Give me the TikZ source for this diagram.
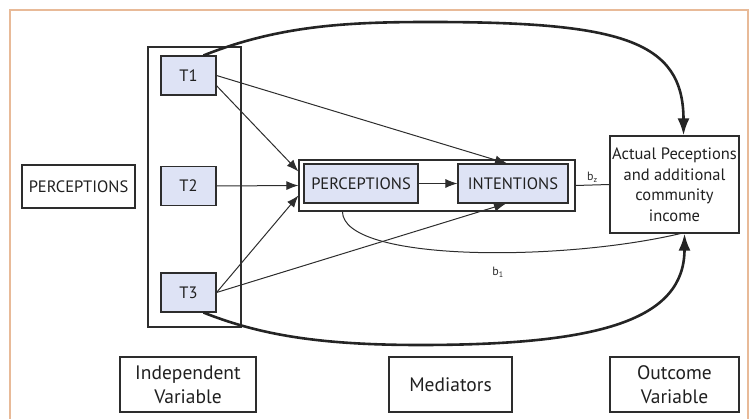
\documentclass[tikz,border=0pt]{standalone}
\usepackage{fontspec}
\setmainfont{PT Sans}
\usetikzlibrary{arrows.meta}

\definecolor{boxfill}{RGB}{222,227,245}
\definecolor{boxline}{RGB}{45,45,45}
\definecolor{frameline}{RGB}{232,186,152}

\begin{document}
\begin{tikzpicture}[x=1pt,y=-1pt,
    box/.style={draw=boxline, line width=1.1pt, inner sep=0pt, align=center, text=boxline!70!black,
        font=\fontsize{16.5}{20.5}\selectfont},
    tbox/.style={box, fill=boxfill},
    legend/.style={box, font=\fontsize{19.5}{24}\selectfont},
    arr/.style={draw=boxline, line width=1pt, -{Latex[length=12pt,width=9pt]}},
    bigarr/.style={draw=boxline!80!black, line width=2.6pt, -{Latex[length=17pt,width=12pt]}},
    lbl/.style={text=boxline, font=\fontsize{12}{14}\selectfont, inner sep=1pt}]
\useasboundingbox (0,0) rectangle (755,419);
\draw[frameline, line width=1.2pt] (10,430) -- (10,10) -- (748,10) -- (748,430);

% left and independent variable
\node[box, minimum width=113pt, minimum height=43pt] (lperc) at (78.5,186.5) {PERCEPTIONS};
\node[box, minimum width=93pt, minimum height=280pt] (indep) at (194.5,187) {};
\node[tbox, minimum width=55pt, minimum height=39pt] (T1) at (188.5,75.5) {T1};
\node[tbox, minimum width=55pt, minimum height=39pt] (T2) at (188.5,186) {T2};
\node[tbox, minimum width=55pt, minimum height=39pt] (T3) at (188.5,292.5) {T3};

% mediators
\node[box, minimum width=276pt, minimum height=51pt] (med) at (437,185.5) {};
\node[tbox, minimum width=114pt, minimum height=39pt] (perc) at (361,183.5) {PERCEPTIONS};
\node[tbox, minimum width=110pt, minimum height=39pt] (int) at (513,183.5) {INTENTIONS};

% outcome
\node[box, minimum width=129pt, minimum height=97pt] (out) at (674.5,184.5)
    {Actual Peceptions\\and additional\\community\\income};

% bottom labels
\node[legend, minimum width=136pt, minimum height=55pt] (indv) at (188,384.5) {Independent\\Variable};
\node[legend, minimum width=123pt, minimum height=55pt] (medv) at (450.5,384.5) {Mediators};
\node[legend, minimum width=129pt, minimum height=55pt] (outv) at (674.5,384.5) {Outcome\\Variable};

% paths
\draw[arr] (T1.-20) -- ([yshift=14pt]med.west);
\draw[arr] (T1.east) -- ([xshift=-6pt]int.north);
\draw[arr] (T2.east) -- (med.west);
\draw[arr] (T3.east) -- ([yshift=-10pt]med.west);
\draw[arr] (T3.east) -- ([xshift=-7pt]int.south);
\draw[arr] (perc.east) -- (int.west);
\draw[draw=boxline, line width=1pt] (med.east) -- node[lbl, above=1pt] {b\textsubscript{z}} (out.west);
\draw[draw=boxline, line width=1pt] ([shift={(39pt,-8pt)}]perc.south west)
    .. controls (343,262) and (560,262) .. ([xshift=6pt]out.south);
\node[lbl] (b1) at (498,272) {b\textsubscript{1}};

\draw[bigarr] ([xshift=15pt]T1.north) .. controls (280,25) and (350,22) .. (430,22)
    .. controls (620,22) and ([xshift=9pt]out.north |- 0,40) .. ([xshift=9pt]out.north);
\draw[bigarr] ([xshift=15pt]T3.south) .. controls (260,335) and (320,345) .. (420,345)
    .. controls (600,345) and ([xshift=10pt]out.south |- 0,320) .. ([xshift=10pt]out.south);
\end{tikzpicture}
\end{document}
